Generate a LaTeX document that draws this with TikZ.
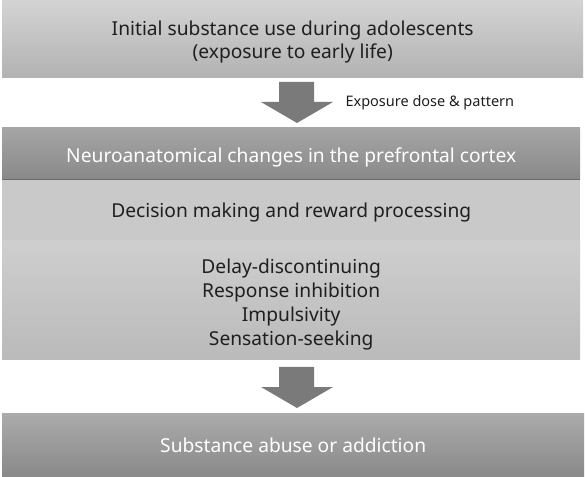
\documentclass[tikz,border=0pt]{standalone}
\usepackage{fontspec}
\setmainfont{Noto Sans}
\begin{document}
\begin{tikzpicture}[x=1pt,y=1pt,
  band/.style={draw=none,inner sep=0pt,minimum height=#1,anchor=north west,minimum width=578pt},
  txt/.style={inner sep=0pt,align=center,font=\fontsize{19.2}{23}\selectfont},
  darktext/.style={text=black!88},
  lighttext/.style={text=white},
  bigarrow/.style={fill=black!52,draw=none}]
\useasboundingbox (0,0) rectangle (585,476);
\fill[white] (0,0) rectangle (585,476);
% box 1
\node[band=77pt,minimum width=581pt,top color=black!17,bottom color=black!30] (b1) at (2,476) {};
\node[txt,darktext,yshift=-3pt] (t1) at (b1.center) {Initial substance use during adolescents\\(exposure to early life)};
% arrow 1
\draw[bigarrow] (279,394) -- (314,394) -- (314,374) -- (333,374) -- (297,353) -- (261,374) -- (279,374) -- cycle;
\node[anchor=west,font=\fontsize{14.5}{16}\selectfont,text=black!88] (lab) at (342,373) {Exposure dose \& pattern};
% box 2
\fill[black!58] (2,295) rectangle (580,298);
\node[band=51pt,top color=black!35,bottom color=black!46] (b2) at (2,349) {};
\node[txt,lighttext,yshift=-5pt] (t2) at (b2.center) {Neuroanatomical changes in the prefrontal cortex};
% box 3
\node[band=60pt,fill=black!21] (b3) at (2,296) {};
\node[txt,darktext,yshift=-2pt] (t3) at (b3.center) {Decision making and reward processing};
% box 4
\node[band=119pt,top color=black!19,bottom color=black!27] (b4) at (2,236) {};
\node[txt,darktext,font=\fontsize{19.2}{24}\selectfont,yshift=-5pt] (t4) at (b4.center) {Delay-discontinuing\\Response inhibition\\Impulsivity\\Sensation-seeking};
% arrow 2
\draw[bigarrow] (279,109) -- (314,109) -- (314,89) -- (333,89) -- (297,68) -- (261,89) -- (279,89) -- cycle;
% box 5
\node[band=63pt,minimum width=582pt,top color=black!33,bottom color=black!46] (b5) at (2,63) {};
\node[txt,lighttext,yshift=-1pt] (t5) at (b5.center) {Substance abuse or addiction};
\end{tikzpicture}
\end{document}
